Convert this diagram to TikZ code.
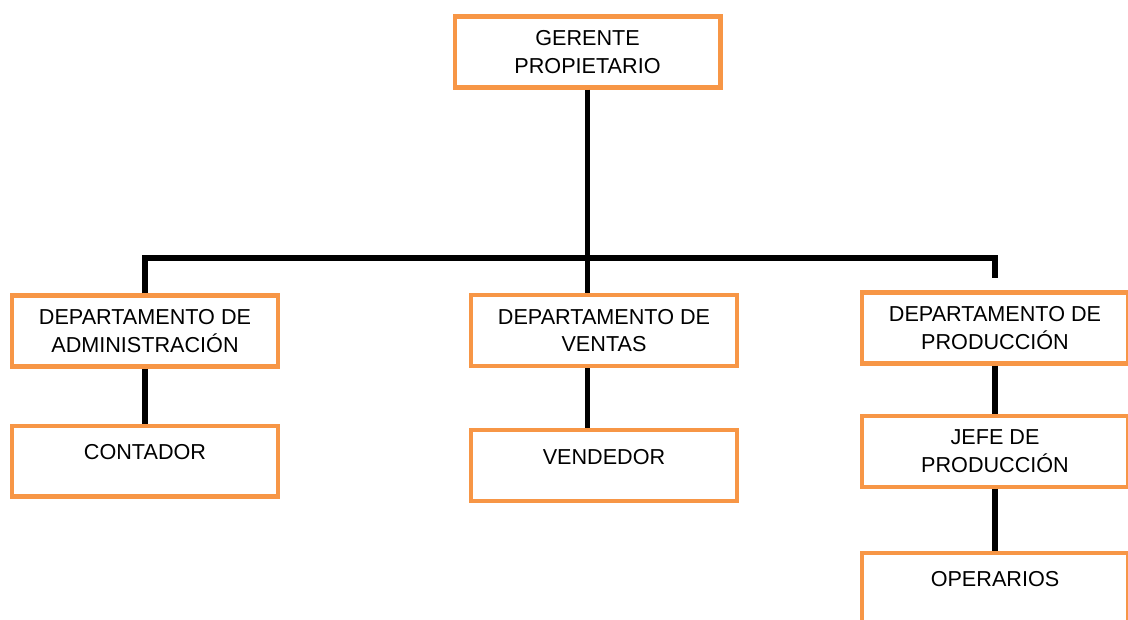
\documentclass[tikz,border=0pt]{standalone}
\usepackage{fontspec}
\setmainfont{Liberation Sans}
\usetikzlibrary{positioning}
\definecolor{naranja}{HTML}{F79646}

\begin{document}
\begin{tikzpicture}[x=0.02cm, y=-0.02cm,
	box/.style={draw=naranja, line width=2.3pt, fill=white, minimum width=5.32cm, minimum height=1.42cm, align=center, font=\fontsize{12.3}{15.6}\selectfont},
	link/.style={line width=3pt, black}]
	\useasboundingbox (0,0) rectangle (1128,619);

	% Nodes {gerente, departamentos, cargos}
	\node [box] (gerente)    at (587.5,52)  {GERENTE\\PROPIETARIO};
	\node [box] (admin)      at (145,331)   {DEPARTAMENTO DE\\ADMINISTRACIÓN};
	\node [box] (ventas)     at (604,330.5) {DEPARTAMENTO DE\\VENTAS};
	\node [box] (produccion) at (995,328)   {DEPARTAMENTO DE\\PRODUCCIÓN};
	\node [box] (contador)   [below=1.1cm of admin]       {CONTADOR\\[-0.2cm]~};
	\node [box] (vendedor)   [below=1.2cm of ventas]      {VENDEDOR\\[-0.2cm]~};
	\node [box] (jefe)       [below=0.96cm of produccion] {JEFE DE\\PRODUCCIÓN};
	\node [box] (operarios)  [below=1.24cm of jefe]       {OPERARIOS\\[-0.2cm]~};
	\coordinate (barra) at (587.5,258);

	% Paths
	\draw [link] (gerente.south) -- (ventas.north -| gerente.south);
	\draw [link, shorten >=7pt] (admin.north) |- (barra) -| (produccion.north);
	\draw [link] (admin.south) -- (contador.north);
	\draw [link] (ventas.south -| gerente.south) -- (vendedor.north -| gerente.south);
	\draw [link] (produccion.south) -- (jefe.north);
	\draw [link] (jefe.south) -- (operarios.north);
\end{tikzpicture}
\end{document}
